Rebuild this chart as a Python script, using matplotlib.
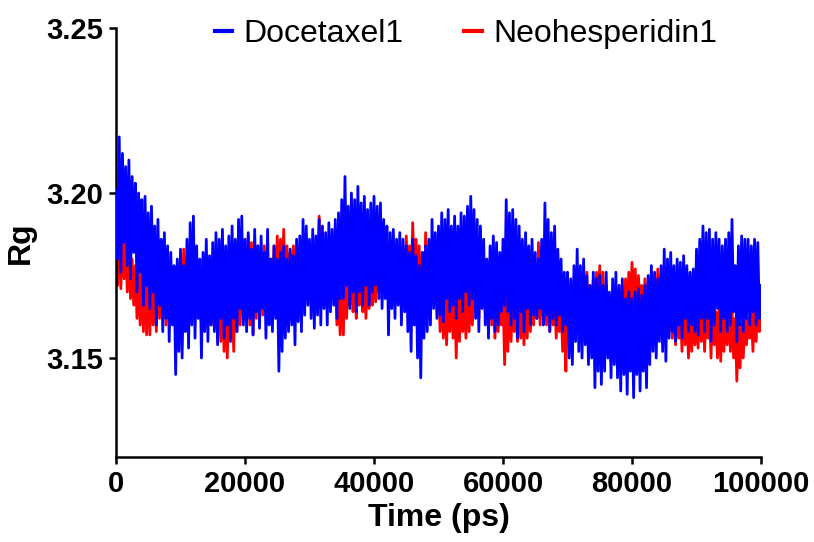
import numpy as np
import matplotlib
matplotlib.use("Agg")
import matplotlib.pyplot as plt
from matplotlib.ticker import FormatStrFormatter

plt.rcParams['font.family'] = ['Liberation Sans', 'DejaVu Sans']

# time axis, one reading every 250 ps
time_ps = np.arange(0, 100001, 250)

# Rg of Docetaxel1 (one row = 5000 ps)
docetaxel = [
    3.201, 3.180, 3.217, 3.176, 3.212, 3.185, 3.208, 3.178, 3.210, 3.174, 3.205, 3.182, 3.203, 3.170, 3.200, 3.176, 3.198, 3.166, 3.199, 3.172,
    3.194, 3.165, 3.196, 3.170, 3.190, 3.160, 3.192, 3.166, 3.186, 3.158, 3.188, 3.162, 3.184, 3.155, 3.182, 3.160, 3.178, 3.145, 3.180, 3.152,
    3.183, 3.150, 3.178, 3.158, 3.186, 3.153, 3.191, 3.160, 3.193, 3.156, 3.184, 3.162, 3.180, 3.150, 3.182, 3.158, 3.186, 3.155, 3.181, 3.160,
    3.185, 3.158, 3.188, 3.154, 3.186, 3.162, 3.189, 3.156, 3.184, 3.160, 3.187, 3.155, 3.190, 3.162, 3.186, 3.158, 3.192, 3.165, 3.193, 3.160,
    3.186, 3.158, 3.188, 3.162, 3.183, 3.157, 3.189, 3.164, 3.184, 3.159, 3.187, 3.165, 3.182, 3.156, 3.189, 3.160, 3.180, 3.158, 3.184, 3.162,
    3.180, 3.146, 3.182, 3.152, 3.184, 3.156, 3.180, 3.158, 3.183, 3.160, 3.181, 3.154, 3.186, 3.161, 3.187, 3.158, 3.192, 3.163, 3.190, 3.166,
    3.186, 3.162, 3.189, 3.159, 3.187, 3.163, 3.192, 3.160, 3.190, 3.165, 3.188, 3.160, 3.191, 3.164, 3.189, 3.166, 3.192, 3.162, 3.194, 3.168,
    3.198, 3.168, 3.205, 3.172, 3.196, 3.165, 3.200, 3.170, 3.198, 3.164, 3.202, 3.170, 3.197, 3.166, 3.199, 3.172, 3.195, 3.166, 3.197, 3.170,
    3.199, 3.172, 3.196, 3.168, 3.197, 3.165, 3.192, 3.168, 3.190, 3.157, 3.188, 3.165, 3.189, 3.162, 3.186, 3.166, 3.188, 3.160, 3.186, 3.164,
    3.184, 3.158, 3.182, 3.152, 3.186, 3.160, 3.181, 3.150, 3.178, 3.144, 3.182, 3.156, 3.184, 3.158, 3.186, 3.160, 3.192, 3.165, 3.188, 3.162,
    3.190, 3.163, 3.194, 3.161, 3.192, 3.168, 3.195, 3.164, 3.190, 3.166, 3.193, 3.162, 3.190, 3.168, 3.194, 3.164, 3.193, 3.170, 3.196, 3.166,
    3.199, 3.168, 3.195, 3.162, 3.192, 3.158, 3.190, 3.165, 3.186, 3.160, 3.180, 3.156, 3.184, 3.162, 3.187, 3.158, 3.185, 3.160, 3.182, 3.164,
    3.186, 3.166, 3.198, 3.164, 3.194, 3.160, 3.195, 3.162, 3.192, 3.156, 3.190, 3.164, 3.186, 3.158, 3.188, 3.165, 3.184, 3.160, 3.186, 3.163,
    3.182, 3.162, 3.180, 3.165, 3.186, 3.160, 3.197, 3.163, 3.192, 3.158, 3.188, 3.162, 3.190, 3.160, 3.183, 3.163, 3.180, 3.158, 3.176, 3.160,
    3.176, 3.150, 3.174, 3.148, 3.178, 3.155, 3.183, 3.152, 3.178, 3.150, 3.180, 3.154, 3.175, 3.148, 3.172, 3.150, 3.176, 3.141, 3.174, 3.146,
    3.175, 3.142, 3.172, 3.146, 3.176, 3.150, 3.170, 3.144, 3.174, 3.148, 3.176, 3.144, 3.172, 3.140, 3.174, 3.145, 3.168, 3.139, 3.170, 3.146,
    3.168, 3.138, 3.170, 3.145, 3.171, 3.140, 3.169, 3.146, 3.172, 3.141, 3.175, 3.148, 3.178, 3.152, 3.176, 3.150, 3.174, 3.155, 3.178, 3.152,
    3.183, 3.149, 3.180, 3.156, 3.182, 3.158, 3.178, 3.155, 3.180, 3.160, 3.179, 3.156, 3.181, 3.162, 3.178, 3.158, 3.176, 3.160, 3.177, 3.158,
    3.183, 3.157, 3.186, 3.162, 3.190, 3.158, 3.188, 3.162, 3.189, 3.155, 3.186, 3.160, 3.188, 3.165, 3.186, 3.158, 3.184, 3.162, 3.186, 3.158,
    3.188, 3.160, 3.192, 3.164, 3.178, 3.155, 3.184, 3.160, 3.187, 3.158, 3.186, 3.162, 3.186, 3.160, 3.184, 3.164, 3.186, 3.160, 3.185, 3.162,
    3.172,
]

# Rg of Neohesperidin1
neohesperidin = [
    3.182, 3.172, 3.195, 3.171, 3.190, 3.174, 3.186, 3.170, 3.184, 3.168, 3.180, 3.166, 3.178, 3.162, 3.176, 3.160, 3.178, 3.158, 3.175, 3.157,
    3.176, 3.157, 3.178, 3.160, 3.175, 3.158, 3.180, 3.162, 3.185, 3.164, 3.182, 3.160, 3.180, 3.163, 3.178, 3.162, 3.176, 3.165, 3.175, 3.166,
    3.178, 3.166, 3.183, 3.162, 3.180, 3.165, 3.178, 3.164, 3.176, 3.162, 3.174, 3.166, 3.176, 3.160, 3.175, 3.164, 3.174, 3.162, 3.172, 3.160,
    3.172, 3.159, 3.174, 3.156, 3.170, 3.155, 3.172, 3.152, 3.174, 3.150, 3.170, 3.156, 3.172, 3.152, 3.175, 3.158, 3.176, 3.160, 3.178, 3.162,
    3.182, 3.166, 3.187, 3.160, 3.185, 3.157, 3.182, 3.162, 3.184, 3.165, 3.180, 3.163, 3.184, 3.166, 3.182, 3.168, 3.180, 3.166, 3.184, 3.168,
    3.187, 3.170, 3.186, 3.172, 3.189, 3.168, 3.184, 3.172, 3.182, 3.170, 3.184, 3.173, 3.180, 3.170, 3.182, 3.172, 3.180, 3.171, 3.178, 3.170,
    3.184, 3.171, 3.180, 3.173, 3.186, 3.172, 3.193, 3.172, 3.188, 3.170, 3.185, 3.173, 3.182, 3.170, 3.178, 3.168, 3.176, 3.160, 3.172, 3.157,
    3.175, 3.157, 3.178, 3.162, 3.174, 3.166, 3.176, 3.164, 3.172, 3.162, 3.176, 3.166, 3.178, 3.164, 3.174, 3.162, 3.176, 3.165, 3.174, 3.166,
    3.178, 3.167, 3.182, 3.170, 3.191, 3.168, 3.186, 3.172, 3.180, 3.170, 3.184, 3.168, 3.178, 3.171, 3.180, 3.170, 3.182, 3.172, 3.178, 3.170,
    3.187, 3.172, 3.184, 3.170, 3.191, 3.174, 3.186, 3.168, 3.184, 3.165, 3.182, 3.160, 3.188, 3.166, 3.184, 3.170, 3.180, 3.168, 3.178, 3.166,
    3.172, 3.158, 3.174, 3.156, 3.170, 3.154, 3.172, 3.158, 3.174, 3.156, 3.170, 3.150, 3.173, 3.155, 3.171, 3.158, 3.170, 3.156, 3.172, 3.158,
    3.177, 3.160, 3.174, 3.164, 3.172, 3.162, 3.178, 3.166, 3.180, 3.164, 3.176, 3.162, 3.174, 3.160, 3.172, 3.156, 3.170, 3.158, 3.168, 3.160,
    3.170, 3.148, 3.168, 3.152, 3.172, 3.155, 3.170, 3.158, 3.166, 3.155, 3.168, 3.156, 3.165, 3.154, 3.168, 3.156, 3.170, 3.158, 3.172, 3.160,
    3.178, 3.162, 3.185, 3.160, 3.180, 3.162, 3.176, 3.160, 3.174, 3.158, 3.172, 3.160, 3.170, 3.156, 3.168, 3.158, 3.166, 3.152, 3.164, 3.146,
    3.172, 3.156, 3.170, 3.154, 3.172, 3.158, 3.174, 3.160, 3.170, 3.156, 3.174, 3.160, 3.176, 3.158, 3.172, 3.162, 3.174, 3.160, 3.176, 3.162,
    3.178, 3.160, 3.176, 3.158, 3.172, 3.155, 3.168, 3.149, 3.170, 3.152, 3.168, 3.156, 3.172, 3.158, 3.170, 3.160, 3.174, 3.162, 3.176, 3.164,
    3.179, 3.166, 3.177, 3.162, 3.175, 3.164, 3.172, 3.160, 3.174, 3.162, 3.173, 3.164, 3.176, 3.160, 3.174, 3.162, 3.177, 3.165, 3.175, 3.164,
    3.173, 3.160, 3.170, 3.158, 3.172, 3.156, 3.170, 3.154, 3.168, 3.156, 3.166, 3.152, 3.168, 3.154, 3.166, 3.150, 3.164, 3.152, 3.163, 3.154,
    3.163, 3.153, 3.166, 3.155, 3.168, 3.152, 3.165, 3.156, 3.166, 3.150, 3.168, 3.154, 3.164, 3.150, 3.166, 3.149, 3.164, 3.152, 3.165, 3.154,
    3.168, 3.152, 3.165, 3.150, 3.162, 3.143, 3.160, 3.147, 3.161, 3.150, 3.163, 3.154, 3.162, 3.156, 3.165, 3.152, 3.166, 3.155, 3.168, 3.158,
    3.164,
]

y_ticks = [3.15, 3.20, 3.25]
x_ticks = [0, 20000, 40000, 60000, 80000, 100000]

fig = plt.figure(figsize=(8.14, 5.42), dpi=100)
ax = fig.add_axes([0.1425, 0.1568, 0.7924, 0.7915])

ax.plot(time_ps, neohesperidin, color='#ff0000', lw=2.0, label='Neohesperidin1', zorder=2)
ax.plot(time_ps, docetaxel, color='#0000ff', lw=2.0, label='Docetaxel1', zorder=3)

ax.set_xlim(0, 100000)
ax.set_ylim(3.12, 3.25)
ax.set_xticks(x_ticks)
ax.set_yticks(y_ticks)
ax.yaxis.set_major_formatter(FormatStrFormatter('%.2f'))
ax.xaxis.set_major_formatter(FormatStrFormatter('%d'))

for side in ['top', 'right']:
    ax.spines[side].set_visible(False)
for side in ['left', 'bottom']:
    ax.spines[side].set_linewidth(1.8)
ax.tick_params(width=1.8, length=5, labelsize=21, pad=4)
for lab in ax.get_xticklabels() + ax.get_yticklabels():
    lab.set_fontweight('bold')

ax.set_xlabel('Time (ps)', fontsize=23, fontweight='bold', labelpad=4)
ax.set_ylabel('Rg', fontsize=23, fontweight='bold', labelpad=8)

handles, labels = ax.get_legend_handles_labels()
leg = ax.legend(handles[::-1], labels[::-1], ncol=2, frameon=False,
                fontsize=23, handlelength=0.55, handletextpad=0.35,
                columnspacing=1.9, loc='center',
                bbox_to_anchor=(466 / 814, 1 - 34 / 542),
                bbox_transform=fig.transFigure)
for line in leg.get_lines():
    line.set_linewidth(3)

fig.savefig('out.png', dpi=100)
